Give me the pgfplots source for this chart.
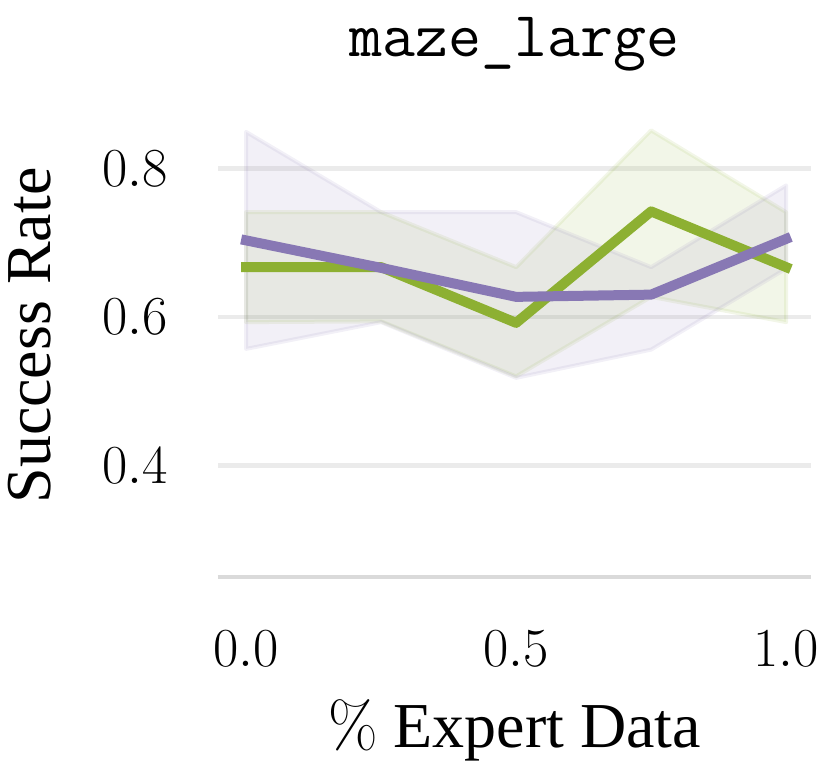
\RequirePackage{fix-cm}
\documentclass[border=0pt]{standalone}
\usepackage[no-math]{fontspec}
\newfontfamily\timesf{Liberation Serif}
\usepackage{pgfplots}
\pgfplotsset{compat=1.18}
\definecolor{lgreen}{RGB}{141,176,50}
\definecolor{lpurple}{RGB}{136,120,180}
\definecolor{gridc}{RGB}{235,235,235}
\definecolor{basec}{RGB}{218,218,218}
\begin{document}
\begin{tikzpicture}
\begin{axis}[
  scale only axis,
  width=593pt, height=483pt,
  xmin=-0.052, xmax=1.046,
  ymin=0.25, ymax=0.9,
  xtick={0,0.5,1}, ytick={0.4,0.6,0.8},
  /pgf/number format/fixed,
  /pgf/number format/fixed zerofill,
  /pgf/number format/precision=1,
  tick label style={font=\fontsize{55}{62}\selectfont, inner sep=0pt},
  xticklabel style={anchor=base, yshift=-89pt},
  yticklabel style={anchor=east, xshift=-50pt},
  major tick length=0pt,
  ymajorgrids,
  grid style={draw=gridc, line width=4.5pt},
  axis x line*=bottom, axis y line*=left,
  x axis line style={draw=basec, line width=4.5pt, -},
  y axis line style={draw=none},
  clip=false,
  title={\ttfamily maze\_large},
  title style={font=\fontsize{64}{70}\selectfont, at={(axis description cs:0.5,1.066)}, anchor=base},
  xlabel={$\%$\timesf\ Expert Data},
  ylabel={\timesf Success Rate},
  label style={font=\fontsize{64}{70}\selectfont},
  xlabel style={at={(axis description cs:0.5,-0.354)}, anchor=base},
  ylabel style={at={(axis description cs:-0.317,0.5)}, anchor=center},
]
% green band (upper then lower reversed)
\addplot[fill=lgreen, fill opacity=0.11, draw=lgreen, draw opacity=0.11, line width=4pt, line join=round]
  coordinates {(0,0.741)(0.25,0.741)(0.5,0.667)(0.75,0.851)(1,0.741)
               (1,0.593)(0.75,0.627)(0.5,0.520)(0.25,0.594)(0,0.593)} -- cycle;
% purple band
\addplot[fill=lpurple, fill opacity=0.11, draw=lpurple, draw opacity=0.11, line width=4pt, line join=round]
  coordinates {(0,0.849)(0.25,0.741)(0.5,0.741)(0.75,0.667)(1,0.777)
               (1,0.665)(0.75,0.556)(0.5,0.518)(0.25,0.593)(0,0.557)} -- cycle;
% green mean
\addplot[draw=lgreen, line width=10pt, line join=round, line cap=rect]
  coordinates {(0,0.667)(0.25,0.667)(0.5,0.592)(0.75,0.742)(1,0.667)};
% purple mean
\addplot[draw=lpurple, line width=10pt, line join=round, line cap=rect]
  coordinates {(0,0.703)(0.25,0.666)(0.5,0.627)(0.75,0.630)(1,0.705)};
\end{axis}
\pgfresetboundingbox
\path (-218pt,-191pt) rectangle (611pt,577pt);
\end{tikzpicture}
\end{document}
